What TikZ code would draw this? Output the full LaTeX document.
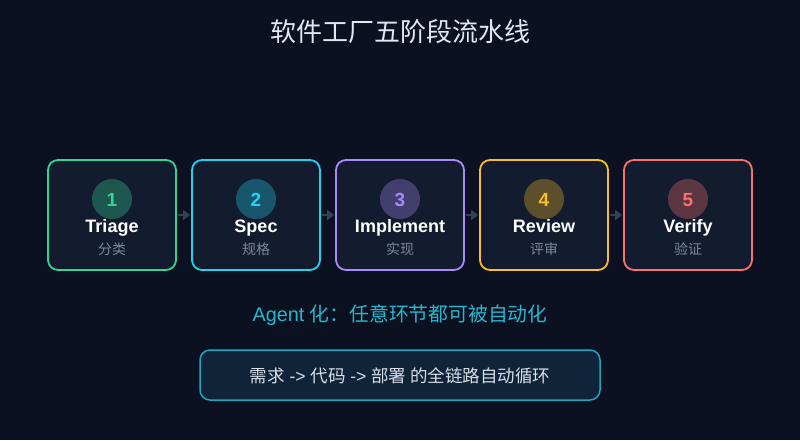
\documentclass[tikz,border=0pt]{standalone}
\usepackage{fontspec}
\setmainfont{Liberation Sans}
\newfontfamily\cjk{Noto Sans CJK SC}
\usetikzlibrary{arrows.meta}
\definecolor{bgdark}{HTML}{0B1120}
\definecolor{boxfill}{HTML}{131B2E}
\definecolor{linkgray}{HTML}{334155}
\definecolor{subgray}{HTML}{7C879A}
\definecolor{titlewhite}{HTML}{E2E8F0}
\definecolor{agentcyan}{HTML}{22B8D0}
\definecolor{loopfill}{HTML}{0F2339}
\definecolor{loopline}{HTML}{1FA5C4}
\definecolor{cgreen}{HTML}{34D399}
\definecolor{ccyan}{HTML}{22D3EE}
\definecolor{cpurple}{HTML}{A78BFA}
\definecolor{camber}{HTML}{FBBF24}
\definecolor{cred}{HTML}{F87171}
\tikzset{
  stagebox/.style={draw=#1, line width=1.8pt, fill=boxfill, rounded corners=10pt,
    minimum width=128pt, minimum height=110pt, inner sep=0pt},
  stagenum/.style={circle, fill=#1!32!boxfill, minimum size=40pt, inner sep=0pt},
  numtext/.style={anchor=base, text=#1, font=\bfseries\fontsize{19}{22}\selectfont},
  stagename/.style={anchor=base, text=white, font=\bfseries\fontsize{18}{21}\selectfont},
  stagesub/.style={anchor=base, text=subgray, font=\cjk\fontsize{14}{16}\selectfont},
  link/.style={draw=linkgray, line width=2pt, shorten <=1.5pt, shorten >=1pt,
    -{Triangle[length=7pt,width=10pt]}},
}
\begin{document}
\begin{tikzpicture}[x=1pt,y=-1pt]
\fill[bgdark] (0,0) rectangle (800,440);
\useasboundingbox (0,0) rectangle (800,440);
\node[text=titlewhite, font=\cjk\fontsize{26}{30}\selectfont] (title) at (400,32) {软件工厂五阶段流水线};
\foreach \i/\name/\sub/\col in {1/Triage/分类/cgreen, 2/Spec/规格/ccyan, 3/Implement/实现/cpurple, 4/Review/评审/camber, 5/Verify/验证/cred}{
  \node[stagebox=\col] (s\i) at ({112+144*(\i-1)},215) {};
  \node[stagenum=\col] (n\i) at ({112+144*(\i-1)},199) {};
  \node[numtext=\col] (d\i) at ({112+144*(\i-1)},206) {\i};
  \node[stagename] (t\i) at ({112+144*(\i-1)},232.5) {\name};
  \node[stagesub] (c\i) at ({112+144*(\i-1)},254) {\sub};
}
\foreach \i/\j in {1/2,2/3,3/4,4/5}
  \draw[link] (s\i.east) -- (s\j.west);
\node[anchor=base, text=agentcyan, font=\fontsize{19.8}{22}\selectfont] (agent) at (400,321)
  {Agent {\cjk 化：任意环节都可被自动化}};
\node[draw=loopline, line width=1.5pt, fill=loopfill, rounded corners=10pt, minimum width=400pt,
  minimum height=50pt] (loop) at (400,375) {};
\node[anchor=base, text=titlewhite!90!subgray, font=\fontsize{17.5}{20}\selectfont] (looptext) at (400,382)
  {{\cjk 需求} -> {\cjk 代码} -> {\cjk 部署 的全链路自动循环}};
\end{tikzpicture}
\end{document}
